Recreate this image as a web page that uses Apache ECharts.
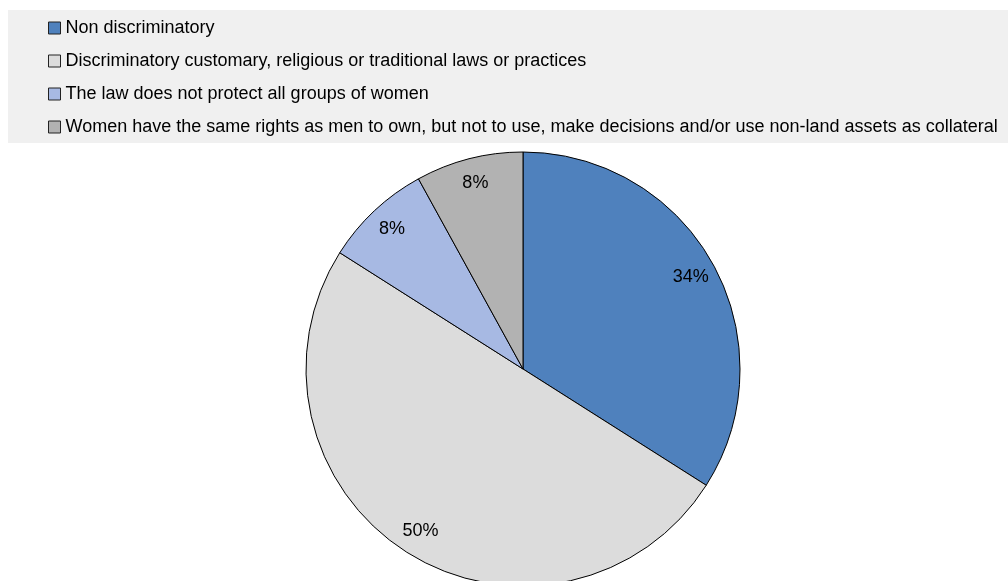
<!DOCTYPE html>
<html>
<head>
<meta charset="utf-8">
<script src="https://cdn.jsdelivr.net/npm/echarts@6/dist/echarts.min.js"></script>
<style>
  html, body { margin: 0; padding: 0; background: #ffffff; }
  #chart { width: 1008px; height: 581px; }
</style>
</head>
<body>
<div id="chart"></div>
<script>
// Share of countries by legal status of women's rights to non-land assets
const categories = [
  'Non discriminatory',
  'Discriminatory customary, religious or traditional laws or practices',
  'The law does not protect all groups of women',
  'Women have the same rights as men to own, but not to use, make decisions and/or use non-land assets as collateral'
];
const shares = [34, 50, 8, 8];
const colors = ['#4F81BD', '#DCDCDC', '#A7B9E3', '#B2B2B2'];

const FONT = "'Liberation Sans', Arial, sans-serif";

const pieData = categories.map((name, i) => ({
  name: name,
  value: shares[i],
  itemStyle: { color: colors[i] }
}));

const chart = echarts.init(document.getElementById('chart'), null, { renderer: 'canvas' });

chart.setOption({
  animation: false,
  backgroundColor: '#ffffff',
  color: colors,
  graphic: [{
    type: 'rect',
    z: 0,
    shape: { x: 8, y: 10, width: 1000, height: 133 },
    style: { fill: '#F0F0F0' },
    silent: true
  }],
  legend: {
    z: 5,
    orient: 'vertical',
    left: 48,
    top: 19,
    itemWidth: 12,
    itemHeight: 12,
    itemGap: 15,
    icon: 'rect',
    padding: 0,
    data: categories,
    itemStyle: { borderColor: '#222222', borderWidth: 1 },
    textStyle: {
      fontFamily: FONT,
      fontSize: 18,
      lineHeight: 18,
      color: '#000000'
    }
  },
  series: [
    {
      type: 'pie',
      center: [523, 369],
      radius: 217,
      startAngle: 90,
      clockwise: true,
      silent: true,
      label: { show: false },
      labelLine: { show: false },
      itemStyle: { borderColor: '#000000', borderWidth: 1 },
      data: pieData
    },
    {
      // transparent ring carrying the percentage labels near the rim
      type: 'pie',
      center: [523, 369],
      radius: [160, 217],
      startAngle: 90,
      clockwise: true,
      silent: true,
      legendHoverLink: false,
      itemStyle: { color: 'rgba(0,0,0,0)', borderWidth: 0 },
      label: {
        show: true,
        position: 'inside',
        formatter: '{c}%',
        fontFamily: FONT,
        fontSize: 18,
        color: '#000000'
      },
      labelLine: { show: false },
      data: categories.map((name, i) => ({ name: name + ' ', value: shares[i] }))
    }
  ]
});
</script>
</body>
</html>
